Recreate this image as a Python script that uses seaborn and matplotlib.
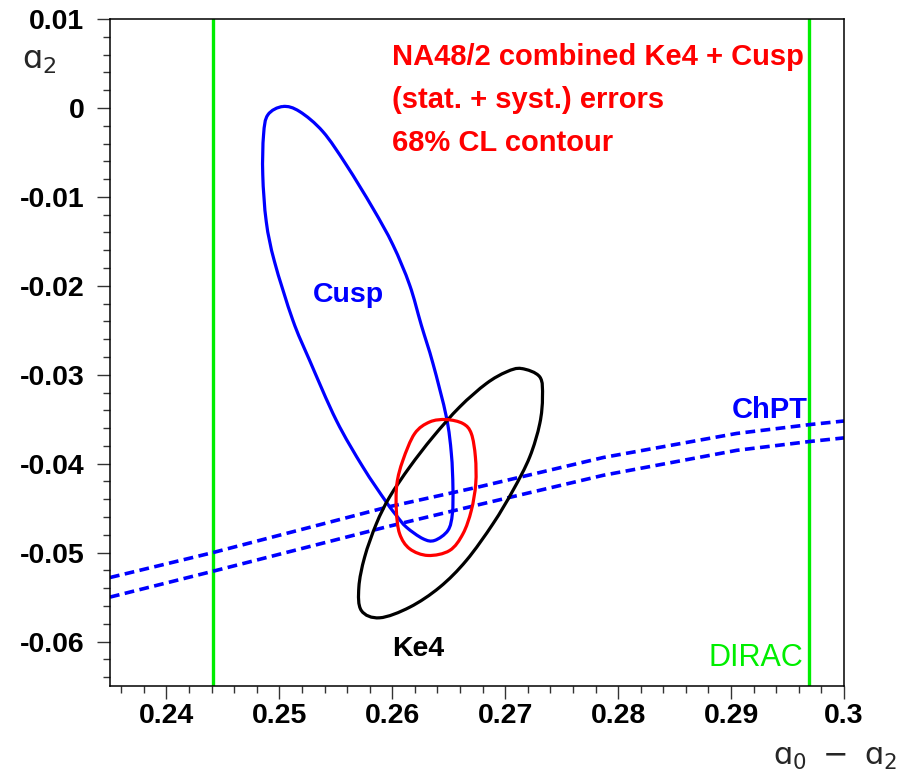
import numpy as np
import pandas as pd
import matplotlib
matplotlib.use("Agg")
import matplotlib.pyplot as plt
from matplotlib.ticker import MultipleLocator, FixedLocator, FixedFormatter
from matplotlib.path import Path
from matplotlib.patches import PathPatch
import seaborn as sns

# ---------------- data ----------------
# Cusp 68% CL contour (a0-a2, a2)
cusp_x = [0.25031, 0.25179, 0.25385, 0.25593, 0.25828, 0.26006, 0.26154, 0.26257,
          0.26360, 0.26479, 0.26523, 0.26537, 0.26532, 0.26493, 0.26375, 0.26272,
          0.26124, 0.26036, 0.25947, 0.25740, 0.25504, 0.25267, 0.25119,
          0.24957, 0.24884, 0.24853, 0.24860, 0.24898]
cusp_y = [0.00016, -0.00040, -0.00266, -0.00641, -0.01128, -0.01541, -0.01992, -0.02442,
          -0.02873, -0.03475, -0.03887, -0.04263, -0.04562, -0.04750, -0.04863, -0.04844,
          -0.04713, -0.04582, -0.04432, -0.04038, -0.03512, -0.02836, -0.02386,
          -0.01729, -0.01279, -0.00753, -0.00303, -0.00078]

# Ke4 68% CL contour
ke4_x = [0.27144, 0.27306, 0.27330, 0.27306, 0.27217, 0.27069, 0.26892, 0.26656,
         0.26420, 0.26154, 0.25888, 0.25726, 0.25704, 0.25755, 0.25859, 0.25976,
         0.26154, 0.26360, 0.26597, 0.26833, 0.27011]
ke4_y = [-0.02930, -0.03024, -0.03250, -0.03550, -0.03925, -0.04300, -0.04675, -0.05088,
         -0.05389, -0.05614, -0.05733, -0.05651, -0.05389, -0.05051, -0.04675, -0.04375,
         -0.04038, -0.03700, -0.03362, -0.03099, -0.02968]

# Combined Ke4 + Cusp 68% CL contour
comb_x = [0.26479, 0.26626, 0.26700, 0.26736, 0.26739, 0.26700, 0.26626, 0.26508,
          0.26316, 0.26154, 0.26065, 0.26036, 0.26041, 0.26094, 0.26198, 0.26331]
comb_y = [-0.03504, -0.03549, -0.03662, -0.03925, -0.04225, -0.04525, -0.04788, -0.04976,
          -0.05032, -0.04957, -0.04788, -0.04525, -0.04225, -0.03962, -0.03662, -0.03531]

# ChPT band edges
chpt_x = [0.2350, 0.2441, 0.2595, 0.2677, 0.2787, 0.2905, 0.2970, 0.3000]
chpt_upper = [-0.0528, -0.0500, -0.0449, -0.0426, -0.0393, -0.0366, -0.0356, -0.0352]
chpt_lower = [-0.0550, -0.0521, -0.0471, -0.0446, -0.0413, -0.0385, -0.0375, -0.0371]

# DIRAC limits on a0-a2
dirac_x = [0.2441, 0.2969]

# axes ticks
xticks = [0.24, 0.25, 0.26, 0.27, 0.28, 0.29, 0.30]
xtick_labels = ["0.24", "0.25", "0.26", "0.27", "0.28", "0.29", "0.3"]
yticks = [-0.06, -0.05, -0.04, -0.03, -0.02, -0.01, 0.0, 0.01]
ytick_labels = ["-0.06", "-0.05", "-0.04", "-0.03", "-0.02", "-0.01", "0", "0.01"]

# ---------------- plot ----------------
sns.set_theme(style="white")
plt.rcParams["font.family"] = ["Liberation Sans", "DejaVu Sans"]

BLUE = "#0000ff"
RED = "#ff0000"
GREEN = "#00ee00"

fig = plt.figure(figsize=(9.12, 7.75), dpi=100)
ax = fig.add_axes([0.1206, 0.1148, 0.8048, 0.8607])

for x in dirac_x:
    ax.axvline(x, color=GREEN, lw=2.4, zorder=1)

chpt = pd.DataFrame({"x": chpt_x, "upper": chpt_upper, "lower": chpt_lower})
for col in ["upper", "lower"]:
    sns.lineplot(data=chpt, x="x", y=col, ax=ax, color=BLUE, lw=2.6,
                 sort=False, estimator=None)
    ax.lines[-1].set_dashes((2.7, 1.5))


def smooth_closed(ax, xs, ys, color, lw):
    """Draw a closed smooth curve through the read contour points (Bezier path)."""
    p = np.column_stack([xs, ys])
    n = len(p)
    verts = [p[0]]
    codes = [Path.MOVETO]
    for i in range(n):
        p0, p1, p2, p3 = p[i - 1], p[i], p[(i + 1) % n], p[(i + 2) % n]
        c1 = p1 + (p2 - p0) / 6.0
        c2 = p2 - (p3 - p1) / 6.0
        verts += [c1, c2, p2]
        codes += [Path.CURVE4] * 3
    patch = PathPatch(Path(verts, codes), fill=False, edgecolor=color, lw=lw,
                      joinstyle="round", zorder=3)
    ax.add_patch(patch)


smooth_closed(ax, cusp_x, cusp_y, BLUE, 2.3)
smooth_closed(ax, ke4_x, ke4_y, "black", 2.3)
smooth_closed(ax, comb_x, comb_y, RED, 2.3)

ax.set_xlim(0.235, 0.300)
ax.set_ylim(-0.065, 0.010)
ax.set_xlabel("")
ax.set_ylabel("")

ax.xaxis.set_major_locator(FixedLocator(xticks))
ax.xaxis.set_major_formatter(FixedFormatter(xtick_labels))
ax.yaxis.set_major_locator(FixedLocator(yticks))
ax.yaxis.set_major_formatter(FixedFormatter(ytick_labels))
ax.xaxis.set_minor_locator(MultipleLocator(0.002))
ax.yaxis.set_minor_locator(MultipleLocator(0.002))
ax.tick_params(which="both", direction="out", left=True, bottom=True, top=False,
               right=False, color="#333333", width=1.0)
ax.tick_params(which="major", length=9.5, pad=3)
ax.tick_params(which="minor", length=5)
ax.tick_params(axis="y", which="major", pad=9)
for lab in ax.get_xticklabels() + ax.get_yticklabels():
    lab.set_fontsize(20.5)
    lab.set_fontweight("bold")
    lab.set_color("black")
for s in ax.spines.values():
    s.set_color("black")
    s.set_linewidth(1.1)

# axis titles
fig.text(0.024, 0.922, r"$\mathregular{ɑ_2}$", fontsize=23, family="DejaVu Sans",
         ha="left", va="center")
fig.text(0.984, 0.022, r"$\mathregular{ɑ_0\ -\ ɑ_2}$", fontsize=22, family="DejaVu Sans",
         ha="right", va="center")

# annotations
bold = dict(fontweight="bold", fontsize=21)
ax.text(0.25994, 0.00576, "NA48/2 combined Ke4 + Cusp", color=RED, ha="left", va="center", **bold)
ax.text(0.25994, 0.00091, "(stat. + syst.) errors", color=RED, ha="left", va="center", **bold)
ax.text(0.25994, -0.00393, "68% CL contour", color=RED, ha="left", va="center", **bold)
ax.text(0.25613, -0.02104, "Cusp", color=BLUE, ha="center", va="center", fontweight="bold", fontsize=20.5)
ax.text(0.26225, -0.06079, "Ke4", color="black", ha="center", va="center", fontweight="bold", fontsize=20.5)
ax.text(0.2968, -0.0340, "ChPT", color=BLUE, ha="right", va="center", fontweight="bold", fontsize=21)
ax.text(0.29637, -0.0619, "DIRAC", color=GREEN, ha="right", va="center", fontsize=22)

fig.savefig("out.png", dpi=100)
